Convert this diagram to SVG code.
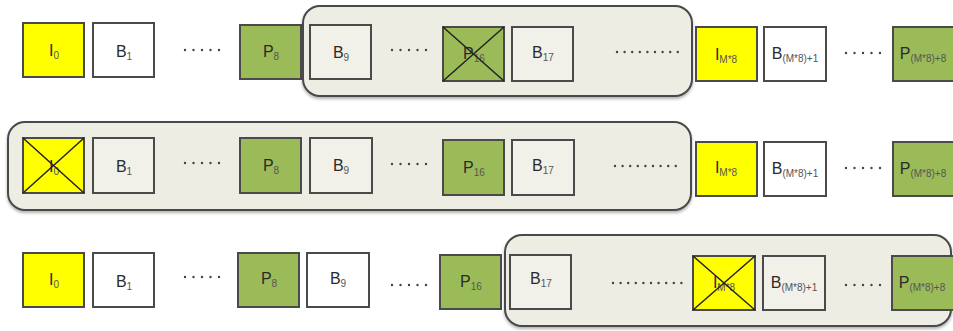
<svg xmlns="http://www.w3.org/2000/svg" width="953" height="331" viewBox="0 0 953 331">
  <defs>
    <filter id="shadow" x="-5%" y="-10%" width="110%" height="130%">
      <feDropShadow dx="0" dy="2" stdDeviation="1.5" flood-color="#000" flood-opacity="0.3"/>
    </filter>
  </defs>
  <style>
    .win { fill: #EEEDE4; stroke: #4a4a4a; stroke-width: 2; filter: url(#shadow); }
    .box { stroke: #4a4a4a; stroke-width: 2; }
    .i { fill: #FFFF00; }
    .b { fill: #FFFFFF; }
    .bw { fill: #F1F0E9; }
    .p { fill: #9BBB59; }
    .x { stroke: #222; stroke-width: 1.5; }
    .lbl { font-family: "Liberation Sans", Arial, sans-serif; font-size: 16px; fill: #2a2a2a; text-anchor: middle; }
    .lbl tspan { font-size: 10px; fill: #555; }
    .dots { stroke: #444; stroke-width: 2.4; stroke-linecap: round; stroke-dasharray: 0 8.5; fill: none; }
    .dl { stroke-dasharray: 0 7.6; }
  </style>

  <!-- sliding windows -->
  <g id="windows">
    <rect id="window1" class="win" x="303" y="6" width="389" height="90" rx="17"/>
    <rect id="window2" class="win" x="8" y="122" width="683" height="88" rx="17"/>
    <rect id="window3" class="win" x="505" y="235" width="446" height="91" rx="17"/>
  </g>

  <!-- row 1 -->
  <g id="r1-I0"><rect class="box i" x="23" y="23" width="61" height="54"/><text class="lbl" x="54" y="56">I<tspan dy="3">0</tspan></text></g>
  <g id="r1-B1"><rect class="box b" x="93" y="23" width="61" height="54"/><text class="lbl" x="124" y="57">B<tspan dy="3">1</tspan></text></g>
  <g id="r1-P8"><rect class="box p" x="240" y="25" width="61" height="54"/><text class="lbl" x="271" y="57">P<tspan dy="3">8</tspan></text></g>
  <g id="r1-B9"><rect class="box bw" x="310" y="25" width="61" height="54"/><text class="lbl" x="341" y="58">B<tspan dy="3">9</tspan></text></g>
  <g id="r1-P16"><rect class="box p" x="443" y="27" width="61" height="54"/><text class="lbl" x="474" y="59">P<tspan dy="3">16</tspan></text>
    <line class="x" x1="443" y1="27" x2="504" y2="81"/><line class="x" x1="504" y1="27" x2="443" y2="81"/></g>
  <g id="r1-B17"><rect class="box bw" x="512" y="27" width="61" height="54"/><text class="lbl" x="543" y="58">B<tspan dy="3">17</tspan></text></g>
  <g id="r1-IM8"><rect class="box i" x="696" y="27" width="61" height="54"/><text class="lbl" x="726" y="60">I<tspan dy="3">M*8</tspan></text></g>
  <g id="r1-BM1"><rect class="box b" x="764" y="27" width="62" height="54"/><text class="lbl" x="795" y="59">B<tspan dy="3">(M*8)+1</tspan></text></g>
  <g id="r1-PM8"><rect class="box p" x="893" y="27" width="64" height="54"/><text class="lbl" x="923" y="59">P<tspan dy="3">(M*8)+8</tspan></text></g>

  <!-- row 2 -->
  <g id="r2-I0"><rect class="box i" x="23" y="138" width="61" height="55"/><text class="lbl" x="54" y="172">I<tspan dy="3">0</tspan></text>
    <line class="x" x1="23" y1="138" x2="84" y2="193"/><line class="x" x1="84" y1="138" x2="23" y2="193"/></g>
  <g id="r2-B1"><rect class="box bw" x="93" y="138" width="61" height="55"/><text class="lbl" x="124" y="172">B<tspan dy="3">1</tspan></text></g>
  <g id="r2-P8"><rect class="box p" x="240" y="138" width="61" height="55"/><text class="lbl" x="271" y="171">P<tspan dy="3">8</tspan></text></g>
  <g id="r2-B9"><rect class="box bw" x="310" y="138" width="62" height="55"/><text class="lbl" x="341" y="171">B<tspan dy="3">9</tspan></text></g>
  <g id="r2-P16"><rect class="box p" x="443" y="140" width="61" height="55"/><text class="lbl" x="474" y="173">P<tspan dy="3">16</tspan></text></g>
  <g id="r2-B17"><rect class="box bw" x="512" y="140" width="62" height="55"/><text class="lbl" x="543" y="171">B<tspan dy="3">17</tspan></text></g>
  <g id="r2-IM8"><rect class="box i" x="696" y="142" width="61" height="54"/><text class="lbl" x="726" y="173">I<tspan dy="3">M*8</tspan></text></g>
  <g id="r2-BM1"><rect class="box b" x="764" y="142" width="62" height="54"/><text class="lbl" x="795" y="174">B<tspan dy="3">(M*8)+1</tspan></text></g>
  <g id="r2-PM8"><rect class="box p" x="893" y="142" width="64" height="54"/><text class="lbl" x="923" y="174">P<tspan dy="3">(M*8)+8</tspan></text></g>

  <!-- row 3 -->
  <g id="r3-I0"><rect class="box i" x="23" y="253" width="61" height="54"/><text class="lbl" x="54" y="285">I<tspan dy="3">0</tspan></text></g>
  <g id="r3-B1"><rect class="box b" x="93" y="253" width="61" height="54"/><text class="lbl" x="124" y="287">B<tspan dy="3">1</tspan></text></g>
  <g id="r3-P8"><rect class="box p" x="238" y="253" width="61" height="54"/><text class="lbl" x="269" y="284">P<tspan dy="3">8</tspan></text></g>
  <g id="r3-B9"><rect class="box b" x="307" y="253" width="62" height="54"/><text class="lbl" x="338" y="284">B<tspan dy="3">9</tspan></text></g>
  <g id="r3-P16"><rect class="box p" x="440" y="255" width="61" height="54"/><text class="lbl" x="471" y="287">P<tspan dy="3">16</tspan></text></g>
  <g id="r3-B17"><rect class="box bw" x="510" y="255" width="61" height="54"/><text class="lbl" x="541" y="284">B<tspan dy="3">17</tspan></text></g>
  <g id="r3-IM8"><rect class="box i" x="693" y="256" width="62" height="54"/><text class="lbl" x="724" y="288">I<tspan dy="3">M*8</tspan></text>
    <line class="x" x1="693" y1="256" x2="755" y2="310"/><line class="x" x1="755" y1="256" x2="693" y2="310"/></g>
  <g id="r3-BM1"><rect class="box bw" x="763" y="256" width="62" height="54"/><text class="lbl" x="794" y="288">B<tspan dy="3">(M*8)+1</tspan></text></g>
  <g id="r3-PM8"><rect class="box p" x="892" y="256" width="65" height="54"/><text class="lbl" x="922" y="288">P<tspan dy="3">(M*8)+8</tspan></text></g>

  <!-- ellipses between frames -->
  <g id="ellipses">
    <line class="dots" x1="185" y1="50" x2="220" y2="50"/>
    <line class="dots" x1="392" y1="50" x2="427" y2="50"/>
    <line class="dots dl" x1="617" y1="52" x2="678" y2="52"/>
    <line class="dots" x1="846" y1="53" x2="881" y2="53"/>

    <line class="dots" x1="185" y1="163" x2="220" y2="163"/>
    <line class="dots" x1="392" y1="164" x2="427" y2="164"/>
    <line class="dots dl" x1="615" y1="166" x2="677" y2="166"/>
    <line class="dots" x1="846" y1="168" x2="881" y2="168"/>

    <line class="dots" x1="185" y1="277" x2="220" y2="277"/>
    <line class="dots" x1="392" y1="285" x2="427" y2="285"/>
    <line class="dots dl" x1="613" y1="283" x2="682" y2="283"/>
    <line class="dots" x1="846" y1="285" x2="881" y2="285"/>
  </g>
</svg>
